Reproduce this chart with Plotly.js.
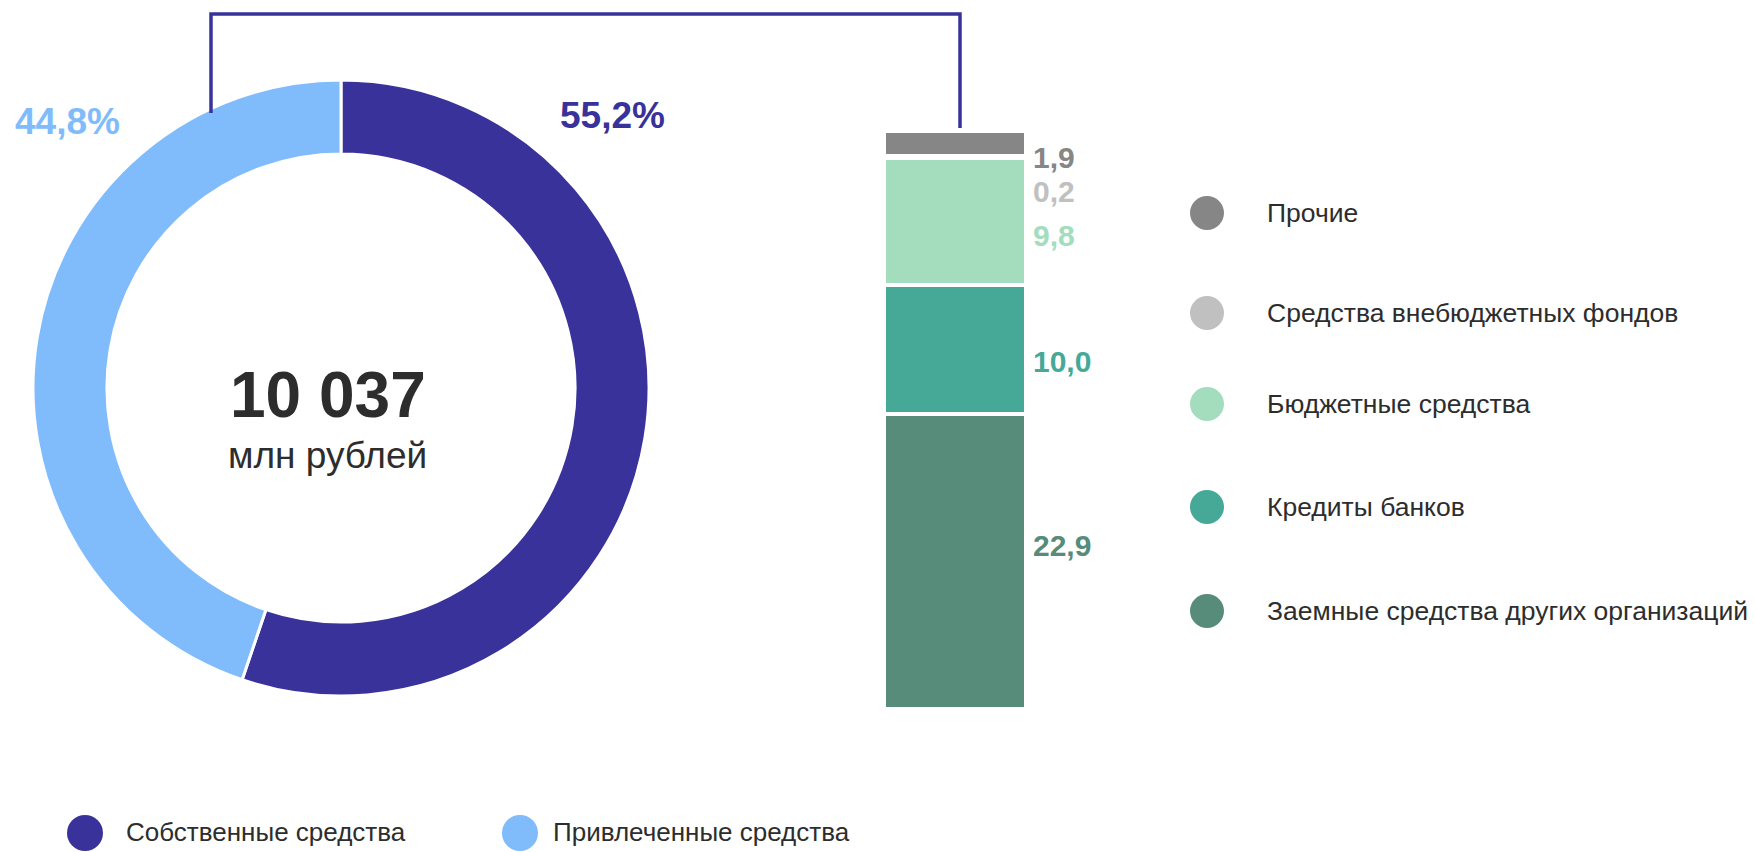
<!DOCTYPE html>
<html>
<head>
<meta charset="utf-8">
<script src="https://cdn.plot.ly/plotly-3.0.1.min.js"></script>
<style>
  html, body { margin: 0; padding: 0; background: #ffffff; }
  #chart { width: 1754px; height: 852px; }
</style>
</head>
<body>
<div id="chart"></div>
<script>
// ---- Data ----
const pieLabels = ['Собственные средства', 'Привлеченные средства'];
const pieValues = [55.2, 44.8];
const pieColors = ['#38329a', '#80bcfc'];

const totalValue = '10 037';
const totalUnit = 'млн рублей';

// stacked from bottom to top
const barLabels = ['Заемные средства других организаций', 'Кредиты банков', 'Бюджетные средства', 'Средства внебюджетных фондов', 'Прочие'];
const barValues = [22.9, 10.0, 9.8, 0.2, 1.9];
const barColors = ['#578c7a', '#46a998', '#a3ddbd', '#c0c0c0', '#868686'];

// ---- Helpers ----
const W = 1754, H = 852;
const px = x => x / W;
const py = y => 1 - y / H;
const fmt = v => v.toFixed(1).replace('.', ',');
const FONT = "'Liberation Sans', Arial, sans-serif";
const TEXT = '#2d2d2d';

// ---- Traces ----
const traces = [];
traces.push({
  type: 'pie',
  values: pieValues,
  labels: pieLabels,
  marker: { colors: pieColors, line: { color: '#ffffff', width: 3 } },
  hole: 0.76,
  sort: false,
  direction: 'clockwise',
  rotation: 0,
  textinfo: 'none',
  hoverinfo: 'label+percent',
  showlegend: false,
  domain: { x: [px(33), px(649)], y: [py(696), py(80)] }
});

barValues.forEach((v, i) => {
  traces.push({
    type: 'bar',
    x: [0],
    y: [v],
    width: [1],
    name: barLabels[i],
    marker: { color: barColors[i], line: { color: '#ffffff', width: 4 } },
    showlegend: false,
    hoverinfo: 'name+y',
    xaxis: 'x',
    yaxis: 'y'
  });
});

// ---- Annotations ----
const annotations = [];
// bar value labels (offsets are styling nudges)
const labelShift = [16, -12, -14, -35, -14];
let cum = 0;
barValues.forEach((v, i) => {
  const mid = cum + v / 2;
  cum += v;
  annotations.push({
    xref: 'x', yref: 'y', x: 0.5, y: mid,
    xanchor: 'left', yanchor: 'middle', xshift: 5, yshift: labelShift[i],
    text: '<b>' + fmt(v) + '</b>', showarrow: false,
    font: { family: FONT, size: 30, color: barColors[i] }
  });
});

// pie percent labels
annotations.push({
  xref: 'paper', yref: 'paper', x: px(612), y: py(116),
  xanchor: 'center', yanchor: 'middle',
  text: '<b>' + fmt(pieValues[0]) + '%</b>', showarrow: false,
  font: { family: FONT, size: 37, color: pieColors[0] }
});
annotations.push({
  xref: 'paper', yref: 'paper', x: px(67), y: py(122),
  xanchor: 'center', yanchor: 'middle',
  text: '<b>' + fmt(pieValues[1]) + '%</b>', showarrow: false,
  font: { family: FONT, size: 37, color: pieColors[1] }
});

// center texts
annotations.push({
  xref: 'paper', yref: 'paper', x: px(328), y: py(395),
  xanchor: 'center', yanchor: 'middle',
  text: '<b>' + totalValue + '</b>', showarrow: false,
  font: { family: FONT, size: 64, color: TEXT }
});
annotations.push({
  xref: 'paper', yref: 'paper', x: px(327), y: py(456),
  xanchor: 'center', yanchor: 'middle',
  text: totalUnit, showarrow: false,
  font: { family: FONT, size: 37, color: TEXT }
});

// ---- Shapes ----
const shapes = [];
// bracket connecting the attracted-funds slice to the bar
shapes.push({
  type: 'path', xref: 'paper', yref: 'paper',
  path: 'M ' + px(211) + ' ' + py(113) + ' L ' + px(211) + ' ' + py(14) +
        ' L ' + px(960) + ' ' + py(14) + ' L ' + px(960) + ' ' + py(128),
  line: { color: '#38329a', width: 3.5 }
});

// right legend (top to bottom = reversed stack order)
const legendRowsY = [213, 313, 404, 507, 611];
const order = barLabels.map((_, i) => barLabels.length - 1 - i);
order.forEach((idx, r) => {
  const cy = legendRowsY[r], cx = 1207, rad = 17;
  shapes.push({
    type: 'circle', xref: 'paper', yref: 'paper',
    x0: px(cx - rad), x1: px(cx + rad), y0: py(cy + rad), y1: py(cy - rad),
    fillcolor: barColors[idx], line: { width: 0 }
  });
  annotations.push({
    xref: 'paper', yref: 'paper', x: px(1265), y: py(cy),
    xanchor: 'left', yanchor: 'middle', text: barLabels[idx], showarrow: false,
    font: { family: FONT, size: 26.5, color: TEXT }
  });
});

// bottom legend for pie
const bottomCirclesX = [85, 520];
const bottomTextX = [125, 552];
pieLabels.forEach((lab, i) => {
  const cy = 833, cx = bottomCirclesX[i], rad = 18;
  shapes.push({
    type: 'circle', xref: 'paper', yref: 'paper',
    x0: px(cx - rad), x1: px(cx + rad), y0: py(cy + rad), y1: py(cy - rad),
    fillcolor: pieColors[i], line: { width: 0 }
  });
  annotations.push({
    xref: 'paper', yref: 'paper', x: px(bottomTextX[i]), y: py(832),
    xanchor: 'left', yanchor: 'middle', text: lab, showarrow: false,
    borderpad: 0,
    font: { family: FONT, size: 26, color: TEXT }
  });
});

const layout = {
  width: W, height: H,
  margin: { l: 0, r: 0, t: 0, b: 0, pad: 0 },
  paper_bgcolor: '#ffffff', plot_bgcolor: 'rgba(0,0,0,0)',
  barmode: 'stack',
  showlegend: false,
  font: { family: FONT, color: TEXT },
  xaxis: {
    domain: [px(884), px(1026)], range: [-0.5, 0.5],
    visible: false, showgrid: false, zeroline: false, fixedrange: true
  },
  yaxis: {
    domain: [py(709), py(131)], range: [0, 44.8],
    visible: false, showgrid: false, zeroline: false, fixedrange: true
  },
  annotations: annotations,
  shapes: shapes
};

Plotly.newPlot('chart', traces, layout, { staticPlot: true, displayModeBar: false });
</script>
</body>
</html>
